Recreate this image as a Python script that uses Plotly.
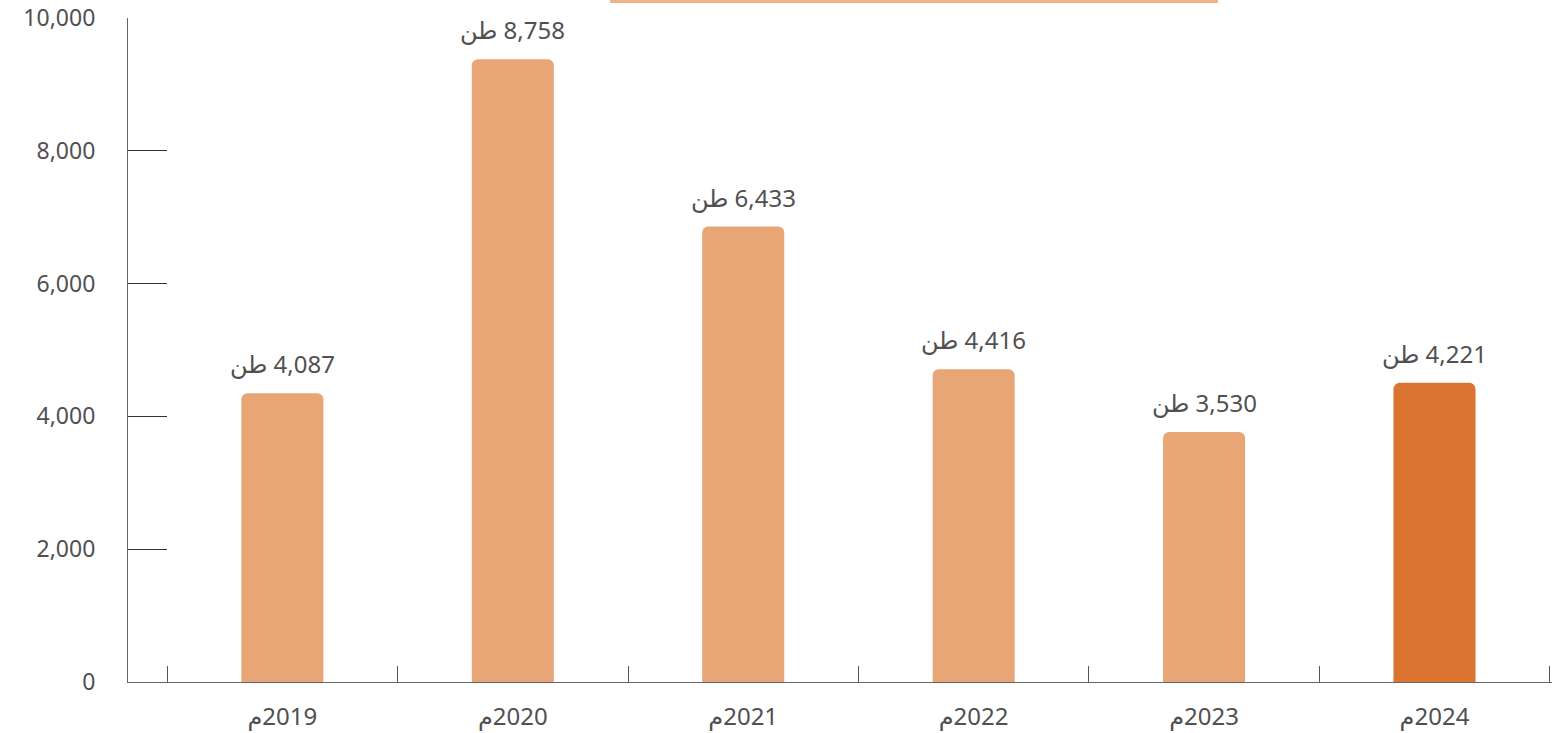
import plotly.graph_objects as go

# Data
years = ["2019", "2020", "2021", "2022", "2023", "2024"]
bar_heights = [4350, 9380, 6860, 4710, 3765, 4505]   # bar heights as drawn against the axis
label_values = [4087, 8758, 6433, 4416, 3530, 4221]  # printed labels (tonnes)
y_ticks = [0, 2000, 4000, 6000, 8000, 10000]

light = "#E8A677"
dark = "#DB7430"
colors = [light] * 5 + [dark]
cats = ["م\u200e" + y for y in years]
txt = "#505050"

fig = go.Figure()
fig.add_trace(go.Bar(
    x=cats, y=bar_heights, marker=dict(color=colors, cornerradius=6, line=dict(width=0)),
    width=0.356, hoverinfo="skip",
))

for c, h, v in zip(cats, bar_heights, label_values):
    fig.add_annotation(
        x=c, y=h, text="طن\u200e " + f"{v:,}", showarrow=False,
        yanchor="bottom", yshift=11,
        font=dict(family="Noto Sans, DejaVu Sans", size=24, color=txt),
    )

fig.add_shape(type="line", xref="paper", yref="paper",
              x0=(610 - 128) / 1424, x1=(1218 - 128) / 1424,
              y0=(682 - 1.5) / 664, y1=(682 - 1.5) / 664,
              line=dict(color="#EDB48A", width=3))

fig.update_layout(
    width=1562, height=733,
    margin=dict(l=128, r=10, t=18, b=51, autoexpand=False),
    paper_bgcolor="white", plot_bgcolor="white",
    showlegend=False,
    font=dict(family="Noto Sans, DejaVu Sans", color=txt),
    bargap=0.6,
)
fig.update_xaxes(
    range=[-0.67, 5.51], showgrid=False, zeroline=False, automargin=False,
    showline=True, linecolor="#666666", linewidth=1.2,
    ticks="inside", tickson="boundaries", ticklen=16, tickcolor="#555555", tickwidth=1.2,
    tickfont=dict(size=24, color=txt), ticklabelstandoff=13,
)
fig.update_yaxes(
    range=[0, 10000], tickvals=y_ticks, tickformat=",d",
    showgrid=False, zeroline=False, automargin=False,
    showline=True, linecolor="#666666", linewidth=1.2,
    ticks="inside", ticklen=39, tickcolor="#333333", tickwidth=1.2,
    tickfont=dict(size=23, color=txt), ticklabelstandoff=27,
)

fig.write_html(
    "out.html",
    config={"displayModeBar": False},
    post_script="document.body.style.margin='0';document.body.style.overflow='hidden';",
)
